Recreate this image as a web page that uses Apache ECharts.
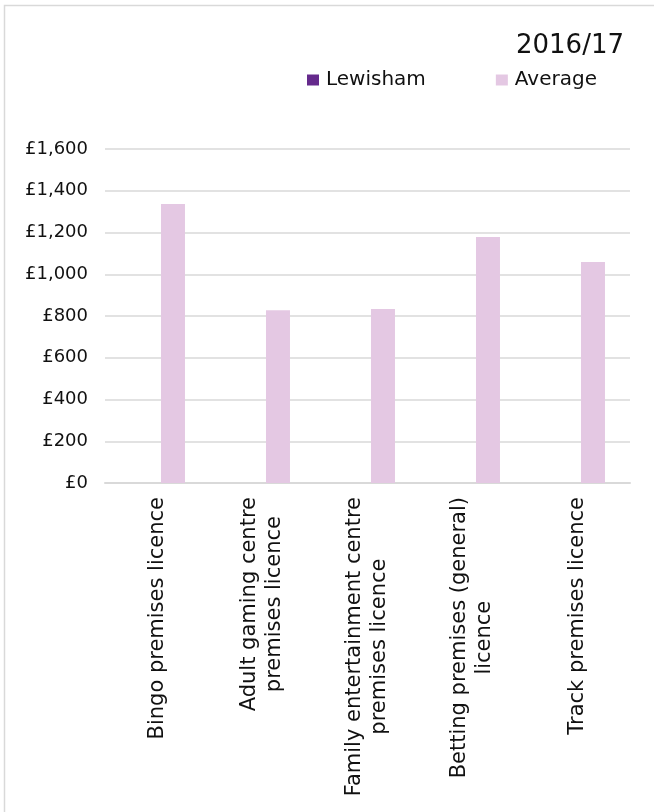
<!DOCTYPE html>
<html>
<head>
<meta charset="utf-8">
<script src="https://cdn.jsdelivr.net/npm/echarts@6/dist/echarts.min.js"></script>
<style>
html,body{margin:0;padding:0;background:#fff;}
#chart{width:654px;height:812px;}
</style>
</head>
<body>
<div id="chart"></div>
<script>
var titleText = '2016/17';
var categories = [
  'Bingo premises licence',
  'Adult gaming centre\npremises licence',
  'Family entertainment centre\npremises licence',
  'Betting premises (general)\nlicence',
  'Track premises licence'
];
var lewishamValues = [0, 0, 0, 0, 0];
var averageValues = [1337, 827, 834, 1178, 1059];
var seriesNames = ['Lewisham', 'Average'];
var yMin = 0, yMax = 1600, yStep = 200;

function money(v) {
  return '£' + String(v).replace(/\B(?=(\d{3})+(?!\d))/g, ',');
}

var chart = echarts.init(document.getElementById('chart'));
chart.setOption({
  animation: false,
  backgroundColor: '#ffffff',
  graphic: [{
    type: 'rect',
    shape: { x: 4.5, y: 5.5, width: 700, height: 900 },
    style: { fill: 'none', stroke: '#d9d9d9', lineWidth: 1.5 },
    silent: true
  }],
  title: {
    text: titleText,
    right: 30,
    top: 33,
    padding: 0,
    textStyle: { fontFamily: 'DejaVu Sans', fontSize: 26, fontWeight: 'normal', color: '#111' }
  },
  legend: {
    data: seriesNames,
    left: 307,
    top: 70,
    padding: 0,
    itemWidth: 12,
    itemHeight: 11,
    itemGap: 70,
    icon: 'rect',
    textStyle: { fontFamily: 'DejaVu Sans', fontSize: 20, color: '#111', padding: [0, 0, 0, 2] }
  },
  grid: { left: 105, right: 24, top: 149, bottom: 329, containLabel: false },
  xAxis: {
    type: 'category',
    data: categories,
    axisLine: { show: true, lineStyle: { color: '#d9d9d9', width: 2 } },
    axisTick: { show: false },
    axisLabel: {
      rotate: 90,
      margin: 14,
      interval: 0,
      color: '#111',
      fontFamily: 'DejaVu Sans',
      fontSize: 21,
      formatter: function (v) {
        return v.split('\n').map(function (l) { return '{c|' + l + '}'; }).join('\n');
      },
      rich: {
        c: { align: 'center', fontFamily: 'DejaVu Sans', fontSize: 21, lineHeight: 25, color: '#111' }
      }
    }
  },
  yAxis: {
    type: 'value',
    min: yMin,
    max: yMax,
    interval: yStep,
    axisLine: { show: false },
    axisTick: { show: false },
    splitLine: { lineStyle: { color: '#d9d9d9', width: 1.5 } },
    axisLabel: {
      margin: 17,
      color: '#111',
      fontFamily: 'DejaVu Sans',
      fontSize: 18,
      formatter: function (v) { return money(v); }
    }
  },
  series: [
    {
      name: seriesNames[0],
      type: 'bar',
      data: lewishamValues,
      barWidth: 24,
      barGap: '29%',
      itemStyle: { color: '#652a8c' }
    },
    {
      name: seriesNames[1],
      type: 'bar',
      data: averageValues,
      barWidth: 24,
      barGap: '29%',
      itemStyle: { color: '#e4c8e3' }
    }
  ]
});
</script>
</body>
</html>
